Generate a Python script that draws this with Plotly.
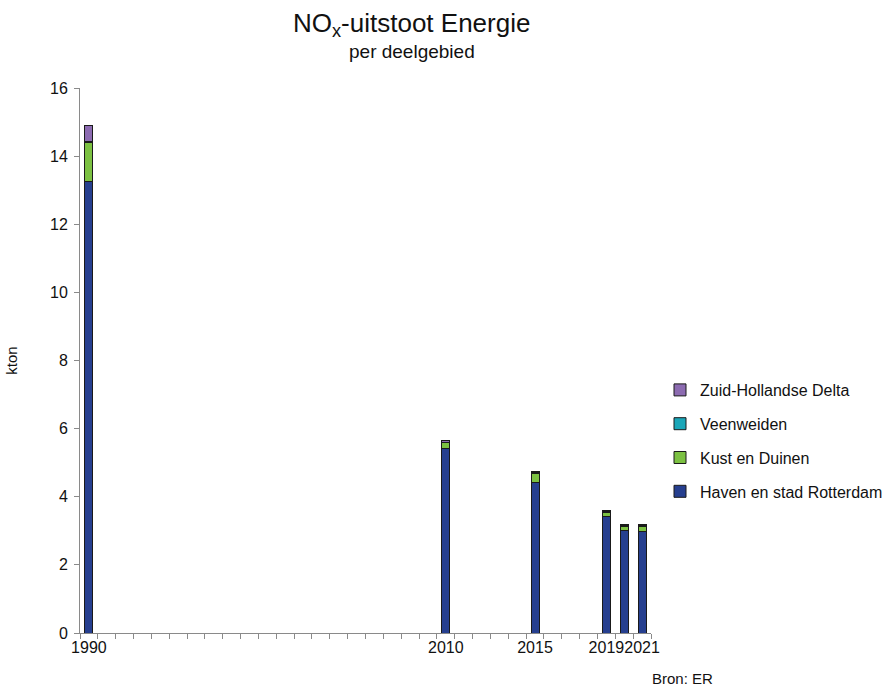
import plotly.graph_objects as go

# NOx emissions from the energy sector, per sub-region (kton)
years = [1990, 2010, 2015, 2019, 2020, 2021]
haven_rotterdam = [13.25, 5.41, 4.43, 3.41, 3.01, 2.99]
kust_duinen = [1.16, 0.18, 0.26, 0.14, 0.13, 0.15]
veenweiden = [0.01, 0.01, 0.01, 0.01, 0.01, 0.01]
zuid_hollandse_delta = [0.49, 0.05, 0.04, 0.05, 0.03, 0.03]

tick_years = [1990, 2010, 2015, 2019, 2021]
first_year, last_year = 1990, 2021

series = [
    ("Haven en stad Rotterdam", haven_rotterdam, "#263f8f"),
    ("Kust en Duinen", kust_duinen, "#7cc142"),
    ("Veenweiden", veenweiden, "#1aa6b8"),
    ("Zuid-Hollandse Delta", zuid_hollandse_delta, "#8c6bb1"),
]

fig = go.Figure()
for i, (name, vals, color) in enumerate(series):
    fig.add_trace(go.Bar(
        x=years, y=vals, name=name, width=0.45,
        marker=dict(color=color, line=dict(color="#1a1a1a", width=1)),
        legendgroup=f"g{i}", legendrank=len(series) - i,
    ))

font_family = "Liberation Sans, Arial, sans-serif"
boundaries = [y - 0.5 for y in range(first_year, last_year + 2)]

# plot area spans x 80..651 px; the rest of the paper width holds the legend
W, H = 885, 686
ml, mr, mt, mb = 80, 0, 88, 53
paper_w = W - ml - mr
plot_h = H - mt - mb


def px(x):
    return (x - ml) / paper_w


def py(y):
    return (H - mb - y) / plot_h


fig.update_layout(
    barmode="stack",
    width=W, height=H,
    margin=dict(l=ml, r=mr, t=mt, b=mb, autoexpand=False),
    paper_bgcolor="white", plot_bgcolor="white",
    font=dict(family=font_family, size=16, color="#111"),
    showlegend=True,
    legend=dict(
        x=px(660), y=py(441), xanchor="left", yanchor="middle",
        traceorder="grouped", tracegroupgap=10,
        font=dict(size=16, color="#111"),
        itemwidth=30, bgcolor="rgba(0,0,0,0)",
    ),
    xaxis=dict(
        domain=[0, 571 / paper_w],
        range=[first_year - 0.5, last_year + 0.5],
        tickmode="array", tickvals=tick_years,
        ticktext=[str(y) for y in tick_years],
        tickangle=0, automargin=False,
        ticks="", showgrid=False, zeroline=False,
        showline=True, linecolor="#8a8a8a", linewidth=1,
        tickfont=dict(size=16),
        minor=dict(tickmode="array", tickvals=boundaries, ticks="outside",
                   ticklen=5, tickcolor="#8a8a8a", showgrid=False),
    ),
    yaxis=dict(
        range=[0, 16], tickmode="linear", tick0=0, dtick=2,
        ticks="outside", ticklen=5, tickcolor="#8a8a8a",
        ticklabelstandoff=3,
        showgrid=False, zeroline=False, automargin=False,
        showline=True, linecolor="#8a8a8a", linewidth=1,
        tickfont=dict(size=16),
        title=dict(text="kton", font=dict(size=15), standoff=28),
    ),
)

fig.add_annotation(
    text="NO<sub>x</sub>-uitstoot Energie", xref="paper", yref="paper",
    x=px(411), y=py(24), xanchor="center", yanchor="middle",
    showarrow=False, font=dict(size=26, color="#111"),
)
fig.add_annotation(
    text="per deelgebied", xref="paper", yref="paper",
    x=px(412), y=py(51), xanchor="center", yanchor="middle",
    showarrow=False, font=dict(size=19, color="#111"),
)
fig.add_annotation(
    text="Bron: ER", xref="paper", yref="paper",
    x=px(650), y=py(678), xanchor="left", yanchor="middle",
    showarrow=False, font=dict(size=15, color="#111"),
)

fig.write_html("out.html")
